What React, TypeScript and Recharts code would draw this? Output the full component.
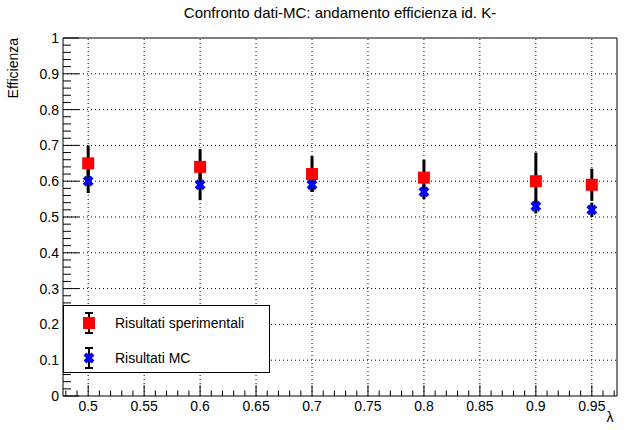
import { ComposedChart, Scatter, ErrorBar, XAxis, YAxis, ReferenceLine, Legend } from 'recharts'

const lambda = [0.5, 0.6, 0.7, 0.8, 0.9, 0.95]
const effData = [0.65, 0.64, 0.62, 0.61, 0.6, 0.59]
const errData = [0.05, 0.05, 0.05, 0.05, 0.08, 0.045]
const effMC = [0.6, 0.59, 0.59, 0.57, 0.53, 0.52]
const errMC = [0.033, 0.043, 0.02, 0.02, 0.02, 0.02]

const xMajor = [0.5, 0.55, 0.6, 0.65, 0.7, 0.75, 0.8, 0.85, 0.9, 0.95]
const yMajor = [0, 0.1, 0.2, 0.3, 0.4, 0.5, 0.6, 0.7, 0.8, 0.9, 1]

const xTicks: number[] = []
for (let i = 48; i <= 97; i++) xTicks.push(i / 100)
const yTicks: number[] = []
for (let i = 0; i <= 50; i++) yTicks.push(Math.round(i * 2) / 100)

const isMajor = (v: number, list: number[]) => list.some((m) => Math.abs(m - v) < 1e-6)

const expPoints = lambda.map((x, i) => ({ x, y: effData[i], err: errData[i] }))
const mcPoints = lambda.map((x, i) => ({ x, y: effMC[i], err: errMC[i] }))

const FONT = '"Liberation Sans", Arial, sans-serif'

function XTick(props: any) {
  const { x, y, payload } = props
  const major = isMajor(payload.value, xMajor)
  return (
    <g>
      <line x1={x} x2={x} y1={y} y2={y - (major ? 11 : 5.5)} stroke="#000" />
      {major && (
        <text x={x} y={y + 15} textAnchor="middle" fontSize={14} fontFamily={FONT} fill="#000">
          {String(payload.value)}
        </text>
      )}
    </g>
  )
}

function YTick(props: any) {
  const { x, y, payload } = props
  const major = isMajor(payload.value, yMajor)
  return (
    <g>
      <line x1={x} x2={x + (major ? 16 : 8)} y1={y} y2={y} stroke="#000" />
      {major && (
        <text x={x - 4} y={y + 5} textAnchor="end" fontSize={14} fontFamily={FONT} fill="#000">
          {String(payload.value)}
        </text>
      )}
    </g>
  )
}

function Square(props: any) {
  const { cx, cy } = props
  return <rect x={cx - 6} y={cy - 6} width={12} height={12} fill="#ff0000" />
}

function Cross(props: any) {
  const { cx, cy } = props
  return (
    <g stroke="#0000ff" strokeWidth={4}>
      <line x1={cx - 4} y1={cy - 4} x2={cx + 4} y2={cy + 4} />
      <line x1={cx - 4} y1={cy + 4} x2={cx + 4} y2={cy - 4} />
    </g>
  )
}

function LegendBox() {
  const bar = (cy: number) => (
    <g stroke="#000" strokeWidth={2}>
      <line x1={26} x2={26} y1={cy - 10} y2={cy + 10} />
      <line x1={22} x2={30} y1={cy - 10} y2={cy - 10} />
      <line x1={22} x2={30} y1={cy + 10} y2={cy + 10} />
    </g>
  )
  return (
    <svg width={207} height={68} style={{ display: 'block' }}>
      <rect x={0.5} y={0.5} width={206} height={67} fill="#fff" stroke="#000" />
      {bar(18)}
      <rect x={20} y={12} width={12} height={12} fill="#ff0000" />
      <text x={52} y={23} fontSize={14} fontFamily={FONT} fill="#000">Risultati sperimentali</text>
      {bar(53)}
      <g stroke="#0000ff" strokeWidth={4}>
        <line x1={22} y1={49} x2={30} y2={57} />
        <line x1={22} y1={57} x2={30} y2={49} />
      </g>
      <text x={52} y={58} fontSize={14} fontFamily={FONT} fill="#000">Risultati MC</text>
    </svg>
  )
}

export default function App() {
  return (
    <div style={{ position: 'absolute', left: 0, top: 0, width: 628, height: 430, background: '#fff', fontFamily: FONT }}>
      <div
        style={{
          position: 'absolute',
          left: 63,
          width: 554,
          top: 4,
          textAlign: 'center',
          fontSize: 15,
          lineHeight: '18px',
        }}
      >
        Confronto dati-MC: andamento efficienza id. K-
      </div>
      <ComposedChart width={628} height={430} margin={{ top: 38, right: 11, left: 0, bottom: 0 }}>
        {xMajor.map((v) => (
          <ReferenceLine key={'gx' + v} x={v} stroke="#000" strokeDasharray="1 3" />
        ))}
        {yMajor.slice(1, -1).map((v) => (
          <ReferenceLine key={'gy' + v} y={v} stroke="#000" strokeDasharray="1 3" />
        ))}
        <ReferenceLine y={1} stroke="#000" />
        <ReferenceLine x={0.9725} stroke="#000" />
        <XAxis
          type="number"
          dataKey="x"
          domain={[0.4775, 0.9725]}
          allowDataOverflow
          ticks={xTicks}
          interval={0}
          tick={<XTick />}
          tickLine={false}
          tickSize={0}
          tickMargin={0}
          height={34}
          axisLine={{ stroke: '#000' }}
          label={() => (
            <text x={610} y={422} textAnchor="middle" fontSize={14} fontFamily={FONT} fill="#000">
              λ
            </text>
          )}
        />
        <YAxis
          type="number"
          dataKey="y"
          domain={[0, 1]}
          allowDataOverflow
          ticks={yTicks}
          interval={0}
          tick={<YTick />}
          tickLine={false}
          tickSize={0}
          tickMargin={0}
          width={63}
          axisLine={{ stroke: '#000' }}
          label={() => (
            <text
              x={18}
              y={38}
              transform="rotate(-90 18 38)"
              textAnchor="end"
              fontSize={14}
              fontFamily={FONT}
              fill="#000"
            >
              Efficienza
            </text>
          )}
        />
        <Scatter name="Risultati sperimentali" data={expPoints} shape={<Square />} isAnimationActive={false}>
          <ErrorBar dataKey="err" direction="y" width={0} stroke="#000" strokeWidth={3} />
        </Scatter>
        <Scatter name="Risultati MC" data={mcPoints} shape={<Cross />} isAnimationActive={false}>
          <ErrorBar dataKey="err" direction="y" width={0} stroke="#000" strokeWidth={3} />
        </Scatter>
        <Legend
          layout="vertical"
          align="center"
          verticalAlign="middle"
          content={() => <LegendBox />}
          wrapperStyle={{ position: 'absolute', left: 63, top: 305, width: 207, height: 68 }}
        />
      </ComposedChart>
    </div>
  )
}
